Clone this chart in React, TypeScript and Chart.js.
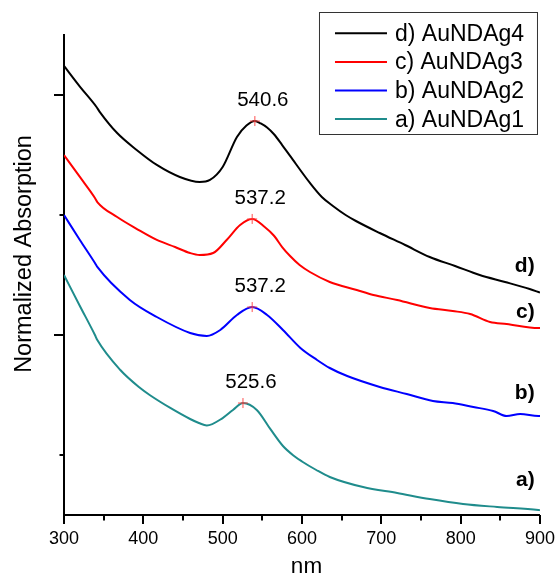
import React, { useEffect, useRef } from 'react';
import { Chart, registerables } from 'chart.js';

Chart.register(...registerables);

const FONT = '"Liberation Sans", Arial, Helvetica, sans-serif';

// a) AuNDAg1 (teal)
const nmA = [300, 320, 339, 342, 371, 396, 408, 434, 459, 470, 480, 500, 513, 525.6, 543, 560, 576, 590, 600, 618, 635, 677, 720, 761, 803, 846, 898, 900];
const absA = [2.5, 2.242, 2.0, 1.958, 1.708, 1.558, 1.5, 1.392, 1.3, 1.267, 1.246, 1.308, 1.375, 1.433, 1.375, 1.217, 1.075, 0.992, 0.946, 0.875, 0.817, 0.733, 0.683, 0.633, 0.592, 0.567, 0.542, 0.54];

// b) AuNDAg2 (blue)
const nmB = [300, 320, 339, 342, 383, 417, 459, 480, 497, 518, 537.2, 556, 576, 598, 619, 635, 657, 698, 732, 765, 790, 816, 841, 858, 875, 898, 900];
const absB = [3.0, 2.792, 2.6, 2.567, 2.292, 2.15, 2.017, 1.992, 2.042, 2.167, 2.233, 2.167, 2.042, 1.892, 1.792, 1.725, 1.658, 1.567, 1.508, 1.45, 1.433, 1.4, 1.367, 1.325, 1.342, 1.325, 1.325];

// c) AuNDAg3 (red)
const nmC = [300, 320, 339, 342, 367, 392, 417, 440, 459, 471, 488, 505, 522, 537.2, 553, 565, 575, 585, 597, 610, 635, 669, 690, 720, 761, 790, 812, 837, 858, 898, 900];
const absC = [3.5, 3.317, 3.142, 3.108, 2.983, 2.883, 2.792, 2.733, 2.683, 2.667, 2.683, 2.792, 2.917, 2.967, 2.9, 2.825, 2.733, 2.658, 2.583, 2.525, 2.442, 2.375, 2.333, 2.292, 2.225, 2.2, 2.175, 2.108, 2.092, 2.058, 2.058];

// d) AuNDAg4 (black)
const nmD = [300, 320, 341, 345, 367, 392, 417, 446, 471, 484, 500, 518, 530, 540.6, 548, 556, 565, 575, 585, 610, 625, 639, 655, 668, 698, 730, 761, 793, 824, 856, 887, 900];
const absD = [4.242, 4.07, 3.9, 3.86, 3.683, 3.54, 3.417, 3.317, 3.275, 3.292, 3.4, 3.65, 3.745, 3.783, 3.763, 3.729, 3.671, 3.583, 3.492, 3.267, 3.15, 3.075, 3.0, 2.95, 2.85, 2.75, 2.65, 2.575, 2.5, 2.442, 2.383, 2.354];

const seriesNames = ['a) AuNDAg1', 'b) AuNDAg2', 'c) AuNDAg3', 'd) AuNDAg4'];
const seriesColors = ['#1f8c8c', '#0000ff', '#ff0000', '#000000'];
const seriesNm = [nmA, nmB, nmC, nmD];
const seriesAbs = [absA, absB, absC, absD];

const peakNm = [525.6, 537.2, 537.2, 540.6];
const peakAbs = [1.433, 2.233, 2.967, 3.783];
const peakLabels = ['525.6', '537.2', '537.2', '540.6'];

const curveTags = ['a)', 'b)', 'c)', 'd)'];
const curveTagNm = 892;
const curveTagAbs = [0.742, 1.467, 2.142, 2.525];

const xMajorTicks = [300, 400, 500, 600, 700, 800, 900];
const xMinorTicks = [350, 450, 550, 650, 750, 850];
const yMajorTicks = [2, 4];
const yMinorTicks = [1, 3];

const xTitle = 'nm';
const yTitle = 'Normalized Absorption';

const overlayPlugin = {
  id: 'overlay',
  afterDraw(chart: any) {
    const { ctx, chartArea } = chart;
    const x = chart.scales.x;
    const y = chart.scales.y;
    ctx.save();
    ctx.strokeStyle = '#000';
    ctx.lineWidth = 2;
    const line = (x1: number, y1: number, x2: number, y2: number) => {
      ctx.beginPath();
      ctx.moveTo(x1, y1);
      ctx.lineTo(x2, y2);
      ctx.stroke();
    };
    const b = chartArea.bottom;
    const l = chartArea.left;
    xMajorTicks.forEach((v) => {
      const px = Math.round(x.getPixelForValue(v));
      line(px, b, px, b + 9);
    });
    xMinorTicks.forEach((v) => {
      const px = Math.round(x.getPixelForValue(v));
      line(px, b, px, b + 5.5);
    });
    yMajorTicks.forEach((v) => {
      const py = Math.round(y.getPixelForValue(v));
      line(l, py, l - 10, py);
    });
    yMinorTicks.forEach((v) => {
      const py = Math.round(y.getPixelForValue(v));
      line(l, py, l - 4.5, py);
    });

    ctx.fillStyle = '#000';
    // axis titles
    ctx.font = `22.5px ${FONT}`;
    ctx.textAlign = 'center';
    ctx.textBaseline = 'alphabetic';
    ctx.fillText(xTitle, (chartArea.left + chartArea.right) / 2 + 4.5, chart.height - 2.3);

    ctx.save();
    ctx.font = `23.5px ${FONT}`;
    ctx.translate(31, (chartArea.top + chartArea.bottom) / 2 - 21);
    ctx.rotate(-Math.PI / 2);
    ctx.fillText(yTitle, 0, 0);
    ctx.restore();

    // peak labels
    ctx.font = `20.5px ${FONT}`;
    ctx.textAlign = 'center';
    peakNm.forEach((v, i) => {
      const px = x.getPixelForValue(v);
      const py = y.getPixelForValue(peakAbs[i]);
      ctx.fillText(peakLabels[i], px + 8, py - 15);
    });

    // curve tags
    ctx.font = `bold 21px ${FONT}`;
    ctx.textAlign = 'right';
    curveTags.forEach((t, i) => {
      ctx.fillText(t, x.getPixelForValue(curveTagNm) + 1, y.getPixelForValue(curveTagAbs[i]));
    });

    // legend
    const lw = 218;
    const lh = 122;
    const lx = chartArea.right - lw - 3;
    const ly = chartArea.top - 23;
    ctx.strokeStyle = '#333';
    ctx.lineWidth = 1;
    ctx.strokeRect(lx + 0.5, ly + 0.5, lw, lh);
    ctx.font = `23px ${FONT}`;
    ctx.textAlign = 'left';
    for (let r = 0; r < 4; r++) {
      const idx = 3 - r;
      const cy = ly + 21.3 + r * 28.6;
      ctx.strokeStyle = seriesColors[idx];
      ctx.lineWidth = 2;
      line(lx + 16, cy, lx + 68, cy);
      ctx.fillStyle = '#000';
      ctx.fillText(seriesNames[idx], lx + 76, cy + 7.5);
    }
    ctx.restore();
  },
};

export default function App() {
  const canvasRef = useRef<HTMLCanvasElement | null>(null);

  useEffect(() => {
    if (!canvasRef.current) return;
    const curveSets = seriesNames.map((name, i) => ({
      label: name,
      data: seriesNm[i].map((v, j) => ({ x: v, y: seriesAbs[i][j] })),
      borderColor: seriesColors[i],
      backgroundColor: seriesColors[i],
      borderWidth: 2,
      pointRadius: 0,
      cubicInterpolationMode: 'monotone' as const,
      fill: false,
    }));
    const peakSet = {
      label: 'peaks',
      data: peakNm.map((v, i) => ({ x: v, y: peakAbs[i] })),
      showLine: false,
      pointStyle: 'cross' as const,
      pointRadius: 5,
      pointBorderWidth: 1,
      pointBorderColor: 'rgba(255,60,60,0.9)',
      borderColor: 'rgba(255,60,60,0.9)',
      backgroundColor: 'rgba(255,60,60,0.9)',
    };
    const chart = new Chart(canvasRef.current, {
      type: 'line',
      data: { datasets: [peakSet as any, ...curveSets] },
      options: {
        animation: false,
        responsive: false,
        devicePixelRatio: 1,
        events: [],
        layout: { padding: { top: 35, right: 16, left: 0, bottom: 0 } },
        plugins: { legend: { display: false }, tooltip: { enabled: false } },
        scales: {
          x: {
            type: 'linear',
            min: 300,
            max: 900,
            afterFit: (s: any) => {
              s.height = 60;
            },
            ticks: {
              stepSize: 100,
              color: '#000',
              font: { size: 18, family: FONT },
              padding: 1,
              maxRotation: 0,
              autoSkip: false,
            },
            grid: {
              display: true,
              drawOnChartArea: false,
              drawTicks: true,
              tickLength: 12,
              color: 'rgba(0,0,0,0)',
            },
            border: { display: true, color: '#000', width: 2 },
          },
          y: {
            type: 'linear',
            min: 0.5,
            max: 4.5,
            afterFit: (s: any) => {
              s.width = 64;
            },
            ticks: { display: false },
            grid: { display: false },
            border: { display: true, color: '#000', width: 2 },
          },
        },
      },
      plugins: [overlayPlugin],
    });
    return () => chart.destroy();
  }, []);

  return (
    <div style={{ position: 'fixed', left: 0, top: 0, width: 556, height: 575, background: '#fff' }}>
      <canvas ref={canvasRef} width={556} height={575} style={{ display: 'block' }} />
    </div>
  );
}
